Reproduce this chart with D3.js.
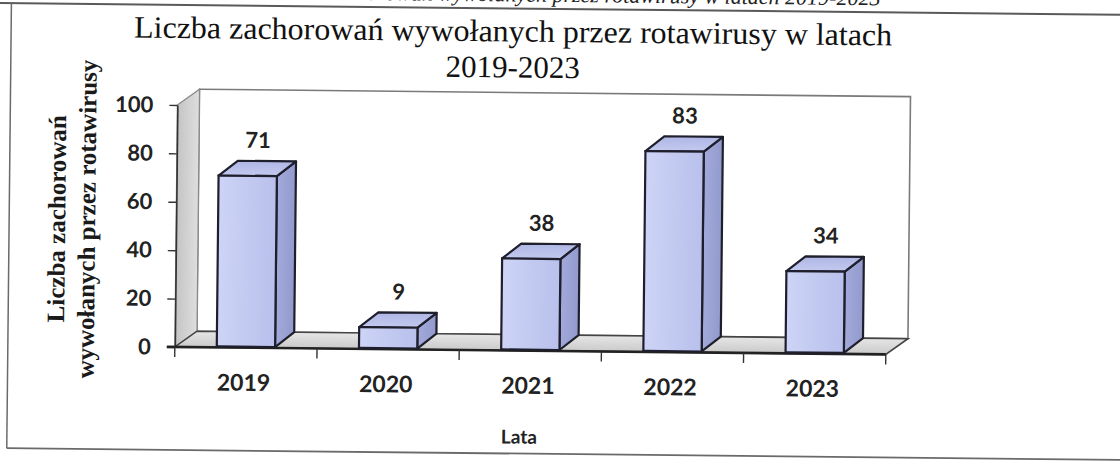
<!DOCTYPE html>
<html>
<head>
<meta charset="utf-8">
<script src="https://cdn.jsdelivr.net/npm/d3@7"></script>
<style>
  html, body { margin: 0; padding: 0; background: #fff; }
  svg { display: block; }
</style>
</head>
<body>
<svg id="chart" width="1120" height="474"></svg>
<script>
// ---- data ----
const years = ["2019", "2020", "2021", "2022", "2023"];
const cases = [71, 9, 38, 83, 34];
const yTicks = [0, 20, 40, 60, 80, 100];
const titleLines = ["Liczba zachorowań wywołanych przez rotawirusy w latach", "2019-2023"];
const yTitleLines = ["Liczba zachorowań", "wywołanych przez rotawirusy"];
const xTitle = "Lata";
const captionText = "Liczba zachorowań wywołanych przez rotawirusy w latach 2019-2023";

// ---- layout ----
const W = 1120, H = 474;
const left = 176, right = 887, y0px = 351, y100px = 109;
const WDX = 22, WDY = -16;   // wall depth
const BDX = 19, BDY = -15;   // bar depth
const barFrac = 0.41;

const svg = d3.select("#chart");
const defs = svg.append("defs");

function lin(id, x2, y2, stops) {
  const g = defs.append("linearGradient").attr("id", id)
    .attr("x1", 0).attr("y1", 0).attr("x2", x2).attr("y2", y2);
  stops.forEach(([o, c]) => g.append("stop").attr("offset", o).attr("stop-color", c));
}
lin("gFront", 1, 0, [[0, "#cdd4f6"], [1, "#b8c0ec"]]);
lin("gSide", 1, 0, [[0, "#a3aadb"], [1, "#9299cc"]]);
lin("gTop", 0, 1, [[0, "#aeb6e4"], [1, "#c3caf0"]]);
lin("gWall", 1, 0, [[0, "#c4c4c4"], [1, "#dedede"]]);
lin("gFloor", 0, 1, [[0, "#e6e6e6"], [1, "#cacaca"]]);

const root = svg.append("g").attr("transform", "rotate(0.6 560 237)");

// page frame lines
root.append("line").attr("x1", -20).attr("x2", W + 20).attr("y1", 9).attr("y2", 9)
  .attr("stroke", "#5a5a5a").attr("stroke-width", 2);
root.append("line").attr("x1", 9).attr("x2", 9).attr("y1", 9).attr("y2", 454)
  .attr("stroke", "#6a6a6a").attr("stroke-width", 1.5);
root.append("line").attr("x1", 9).attr("x2", W + 20).attr("y1", 454).attr("y2", 454)
  .attr("stroke", "#6a6a6a").attr("stroke-width", 1.8);

// cut-off caption at the very top (as in the scanned page)
root.append("text").attr("x", 878).attr("y", 2).attr("text-anchor", "end")
  .attr("font-family", "Liberation Serif, serif").attr("font-style", "italic")
  .attr("font-size", 22).attr("fill", "#222").text(captionText);

// scales
const x = d3.scaleBand().domain(years).range([left, right]).padding(0);
const y = d3.scaleLinear().domain([0, 100]).range([y0px, y100px]);

// title (one text element, two lines)
const title = root.append("text")
  .attr("text-anchor", "middle")
  .attr("font-family", "Liberation Serif, Times New Roman, serif")
  .attr("font-size", 31).attr("fill", "#111");
title.selectAll("tspan").data(titleLines).join("tspan")
  .attr("x", 511).attr("y", (d, i) => 42 + i * 36)
  .attr("textLength", (d, i) => i === 0 ? 758 : null)
  .attr("lengthAdjust", "spacingAndGlyphs")
  .text(d => d);

// y-axis title
const yt = root.append("g").attr("transform", "translate(0,224) rotate(-90)");
yt.selectAll("text").data(yTitleLines).join("text")
  .attr("x", 0).attr("y", (d, i) => 65 + i * 30)
  .attr("text-anchor", "middle")
  .attr("font-family", "Liberation Serif, Times New Roman, serif")
  .attr("font-weight", "bold").attr("font-size", 25).attr("fill", "#1a1a1a")
  .text(d => d);

// back wall
const yTop = y(100), yBot = y(0);
root.append("rect")
  .attr("x", left + WDX).attr("y", yTop + WDY)
  .attr("width", (right - left)).attr("height", yBot - yTop)
  .attr("fill", "#fff").attr("stroke", "#7a7a7a").attr("stroke-width", 1.6);

// side wall
root.append("polygon")
  .attr("points", [[left, yTop], [left + WDX, yTop + WDY], [left + WDX, yBot + WDY], [left, yBot]].join(" "))
  .attr("fill", "url(#gWall)").attr("stroke", "#8a8a8a").attr("stroke-width", 1.2);

// floor
root.append("polygon")
  .attr("points", [[left, yBot], [right, yBot], [right + WDX, yBot + WDY], [left + WDX, yBot + WDY]].join(" "))
  .attr("fill", "url(#gFloor)").attr("stroke", "#444").attr("stroke-width", 1.6);

// y axis
const yAxis = d3.axisLeft(y).tickValues(yTicks).tickSize(8).tickSizeOuter(0).tickPadding(16);
const gy = root.append("g").attr("transform", `translate(${left},0)`).call(yAxis);
gy.select(".domain").attr("stroke", "#333").attr("stroke-width", 1.6);
gy.selectAll(".tick line").attr("stroke", "#333").attr("stroke-width", 1.4);
gy.selectAll(".tick text").attr("font-family", "Lato, Open Sans, sans-serif")
  .attr("font-weight", 700).attr("font-size", 22).attr("fill", "#222");

// x axis line + ticks at category boundaries
root.append("line").attr("x1", left - 8).attr("x2", right).attr("y1", yBot).attr("y2", yBot)
  .attr("stroke", "#222").attr("stroke-width", 2.6);
const bounds = years.map(d => x(d)).concat([x(years[years.length - 1]) + x.bandwidth()]);
root.append("g").selectAll("line").data(bounds).join("line")
  .attr("x1", d => d).attr("x2", d => d).attr("y1", yBot).attr("y2", yBot + 10)
  .attr("stroke", "#333").attr("stroke-width", 1.4);

// x labels
root.append("g").selectAll("text").data(years).join("text")
  .attr("x", d => x(d) + x.bandwidth() / 2 - 2).attr("y", yBot + 43)
  .attr("text-anchor", "middle")
  .attr("font-family", "Lato, Open Sans, sans-serif").attr("font-weight", 700)
  .attr("font-size", 23).attr("fill", "#222").text(d => d);

root.append("text").attr("x", 521).attr("y", 444).attr("text-anchor", "middle")
  .attr("font-family", "Lato, Open Sans, sans-serif").attr("font-weight", 700)
  .attr("font-size", 19).attr("fill", "#222").text(xTitle);

// bars
const bw = x.bandwidth() * barFrac;
const bars = root.append("g").selectAll("g").data(years.map((d, i) => ({ year: d, v: cases[i] }))).join("g");
const stroke = "#1e1e2c", sw = 2.2;
bars.each(function (d) {
  const g = d3.select(this);
  const cx = x(d.year) + x.bandwidth() / 2;
  const x0 = cx - bw / 2, x1 = cx + bw / 2;
  const yt = y(d.v), yb = y(0) - 1;
  // right side
  g.append("polygon")
    .attr("points", [[x1, yt], [x1 + BDX, yt + BDY], [x1 + BDX, yb + BDY], [x1, yb]].join(" "))
    .attr("fill", "url(#gSide)").attr("stroke", stroke).attr("stroke-width", sw).attr("stroke-linejoin", "round");
  // top
  g.append("polygon")
    .attr("points", [[x0, yt], [x1, yt], [x1 + BDX, yt + BDY], [x0 + BDX, yt + BDY]].join(" "))
    .attr("fill", "url(#gTop)").attr("stroke", stroke).attr("stroke-width", sw).attr("stroke-linejoin", "round");
  // front
  g.append("rect").attr("x", x0).attr("y", yt).attr("width", bw).attr("height", yb - yt)
    .attr("fill", "url(#gFront)").attr("stroke", stroke).attr("stroke-width", sw);
  // value label
  g.append("text").attr("x", cx + 10).attr("y", yt - 28)
    .attr("text-anchor", "middle")
    .attr("font-family", "Lato, Open Sans, sans-serif").attr("font-weight", 700)
    .attr("font-size", 22).attr("fill", "#222").text(d.v);
});
</script>
</body>
</html>
